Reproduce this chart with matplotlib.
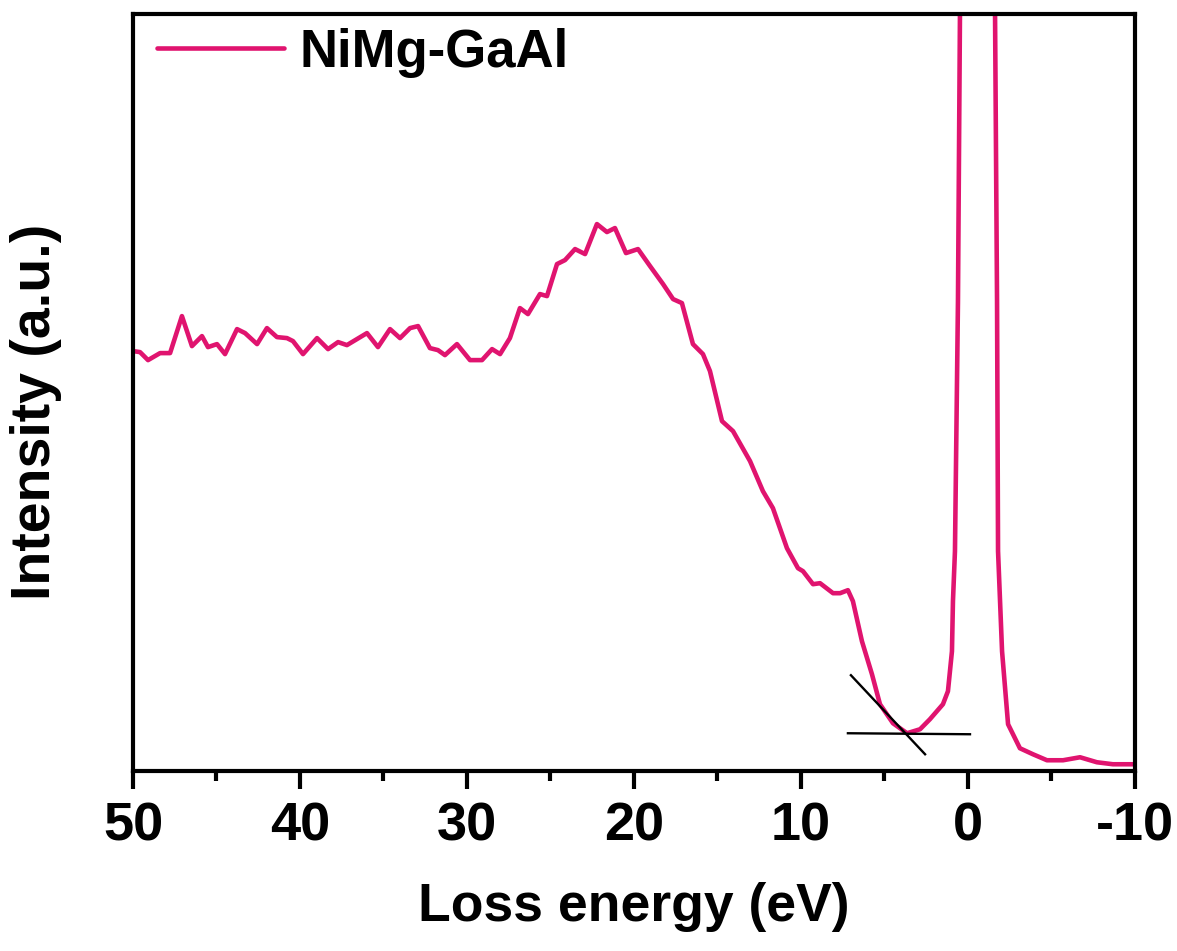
import matplotlib
matplotlib.use("Agg")
import matplotlib.pyplot as plt
from matplotlib.ticker import MultipleLocator

# Loss energy (eV) and intensity (a.u.)
energy = [50.0, 49.58, 49.10, 48.38, 47.78, 47.07, 46.47, 45.87, 45.51, 44.97,
          44.49, 43.77, 43.29, 42.57, 41.98, 41.38, 40.78, 40.42, 39.82, 38.98,
          38.32, 37.72, 37.19, 36.59, 35.99, 35.33, 34.61, 34.01, 33.41, 32.93,
          32.22, 31.74, 31.32, 30.60, 29.82, 29.10, 28.50, 28.02, 27.43, 26.83,
          26.35, 25.63, 25.21, 24.61, 24.13, 23.53, 22.93, 22.22, 21.62, 21.14,
          20.48, 19.76, 19.04, 18.26, 17.66, 17.13, 16.47, 15.87, 15.45, 14.73,
          14.07, 13.05, 12.28, 11.68, 10.84, 10.18, 9.88, 9.28, 8.86, 8.08,
          7.66, 7.19, 6.89, 6.35, 5.75, 5.27, 4.49, 3.65, 2.87, 2.28,
          1.50, 1.20, 0.96, 0.90, 0.78, 0.60, 0.48, -0.54, -1.62, -1.74,
          -1.80, -2.04, -2.40, -3.11, -3.89, -4.73, -5.69, -6.71, -7.72, -8.68,
          -9.88, -10.0]
intensity = [420, 419, 411, 418, 418, 455, 425, 435, 424, 427,
             417, 442, 438, 427, 443, 434, 433, 430, 417, 433,
             422, 429, 426, 432, 438, 424, 442, 433, 443, 445,
             423, 421, 416, 427, 411, 411, 422, 417, 433, 463,
             457, 477, 475, 507, 511, 522, 517, 547, 539, 543,
             518, 522, 505, 487, 472, 468, 427, 417, 400, 350,
             340, 310, 280, 263, 223, 203, 200, 187, 188, 178,
             178, 181, 170, 130, 97, 67, 48, 38, 42, 52,
             67, 80, 120, 170, 220, 470, 758, 5000, 758, 470,
             220, 120, 47, 23, 17, 11, 11, 14, 9, 7,
             7, 7]

# Tangent construction lines (band-gap estimate)
tangent_x = [7.01, 2.57]
tangent_y = [96, 17]
baseline_x = [7.19, -0.12]
baseline_y = [38, 37]

series_label = "NiMg-GaAl"
xticks = [50, 40, 30, 20, 10, 0, -10]

plt.rcParams['font.family'] = ['Liberation Sans', 'DejaVu Sans']
plt.rcParams['font.weight'] = 'bold'

fig = plt.figure(figsize=(11.77, 9.51), dpi=100)
ax = fig.add_axes([0.113, 0.189, 0.8513, 0.7963])

color = '#E0146F'
ax.plot(energy, intensity, color=color, lw=3.3, label=series_label,
        solid_joinstyle='round', solid_capstyle='round')
ax.plot(tangent_x, tangent_y, color='black', lw=1.7)
ax.plot(baseline_x, baseline_y, color='black', lw=1.7)

ax.set_xlim(50, -10)
ax.set_ylim(0, 757)
ax.set_xticks(xticks)
ax.set_xticklabels([str(t) for t in xticks])
ax.xaxis.set_minor_locator(MultipleLocator(5))
ax.set_yticks([])

for s in ax.spines.values():
    s.set_linewidth(3.0)

ax.tick_params(axis='x', which='major', direction='out', length=13, width=3,
               labelsize=39, pad=9)
ax.tick_params(axis='x', which='minor', direction='out', length=7, width=3)
for lbl in ax.get_xticklabels():
    lbl.set_fontweight('bold')

ax.set_xlabel("Loss energy (eV)", fontsize=38.5, fontweight='bold', labelpad=22)
ax.set_ylabel("Intensity (a.u.)", fontsize=40, fontweight='bold')
ax.yaxis.set_label_coords(-0.071, 0.475)

leg = ax.legend(loc='upper left', frameon=False, prop={'size': 38, 'weight': 'bold'},
                handlelength=2.4, handletextpad=0.3, borderaxespad=0.0,
                borderpad=0.0, bbox_to_anchor=(0.024, 0.982))

fig.savefig("out.png", dpi=100)
